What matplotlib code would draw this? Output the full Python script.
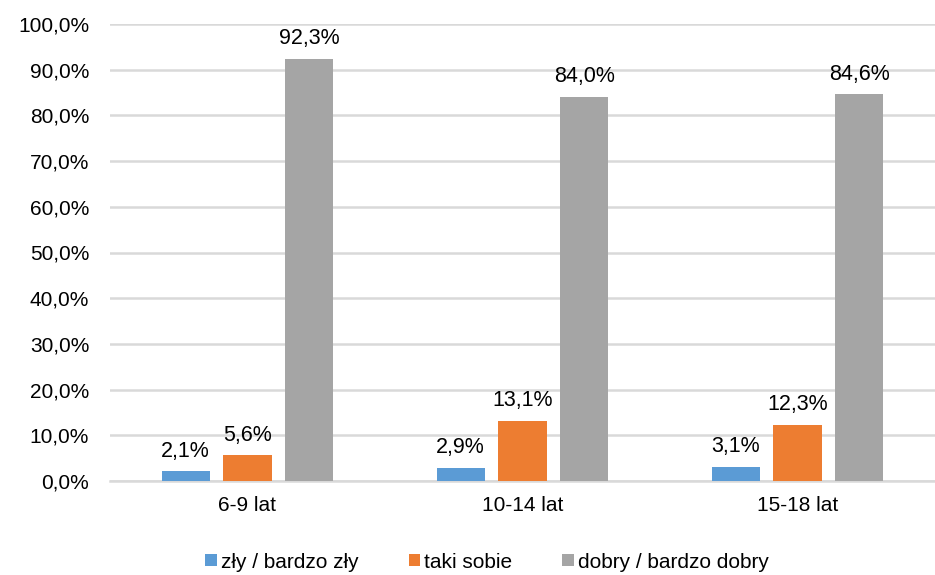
import matplotlib
matplotlib.use("Agg")
import matplotlib.pyplot as plt
import numpy as np
from matplotlib.ticker import FuncFormatter

categories = ["6-9 lat", "10-14 lat", "15-18 lat"]
series_names = ["zły / bardzo zły", "taki sobie", "dobry / bardzo dobry"]
zly = [2.1, 2.9, 3.1]
taki = [5.6, 13.1, 12.3]
dobry = [92.3, 84.0, 84.6]
colors = ["#5B9BD5", "#ED7D31", "#A5A5A5"]

plt.rcParams['font.family'] = ['Liberation Sans', 'DejaVu Sans']

fig = plt.figure(figsize=(9.35, 5.75), dpi=100)
ax = fig.add_axes([110/935, 1-481/575, 825/935, (481-24)/575])

x = np.arange(len(categories))
step = 0.225
width = 0.175
for i, (vals, name, c) in enumerate(zip([zly, taki, dobry], series_names, colors)):
    pos = x + (i - 1) * step
    bars = ax.bar(pos, vals, width=width, color=c, label=name, zorder=3)
    for b, v in zip(bars, vals):
        ax.annotate(f"{v:.1f}%".replace(".", ","), (b.get_x() + b.get_width()/2, v),
                    xytext=(0, 7), textcoords="offset points", ha="center", va="bottom",
                    fontsize=15.5, color="#000000")

ax.set_xlim(-0.5, 2.5)
ax.set_ylim(0, 100)
ax.set_yticks(np.arange(0, 101, 10))
ax.yaxis.set_major_formatter(FuncFormatter(lambda v, p: f"{v:.1f}%".replace(".", ",")))
ax.set_xticks(x)
ax.set_xticklabels(categories)
ax.tick_params(axis="both", length=0, labelsize=15, colors="#000000")
ax.tick_params(axis="y", pad=15)
ax.tick_params(axis="x", pad=11)
ax.grid(axis="y", color="#D9D9D9", linewidth=1.8, zorder=0)
for s in ["top", "right", "left"]:
    ax.spines[s].set_visible(False)
ax.spines["bottom"].set_color("#D9D9D9")
ax.spines["bottom"].set_linewidth(1.8)

fig.legend(loc="center", bbox_to_anchor=(487/935, 1-562/575), ncol=3, frameon=False,
           fontsize=15, handlelength=0.55, handleheight=0.55, handletextpad=0.2,
           columnspacing=2.4)

fig.savefig("out.png", dpi=100)
